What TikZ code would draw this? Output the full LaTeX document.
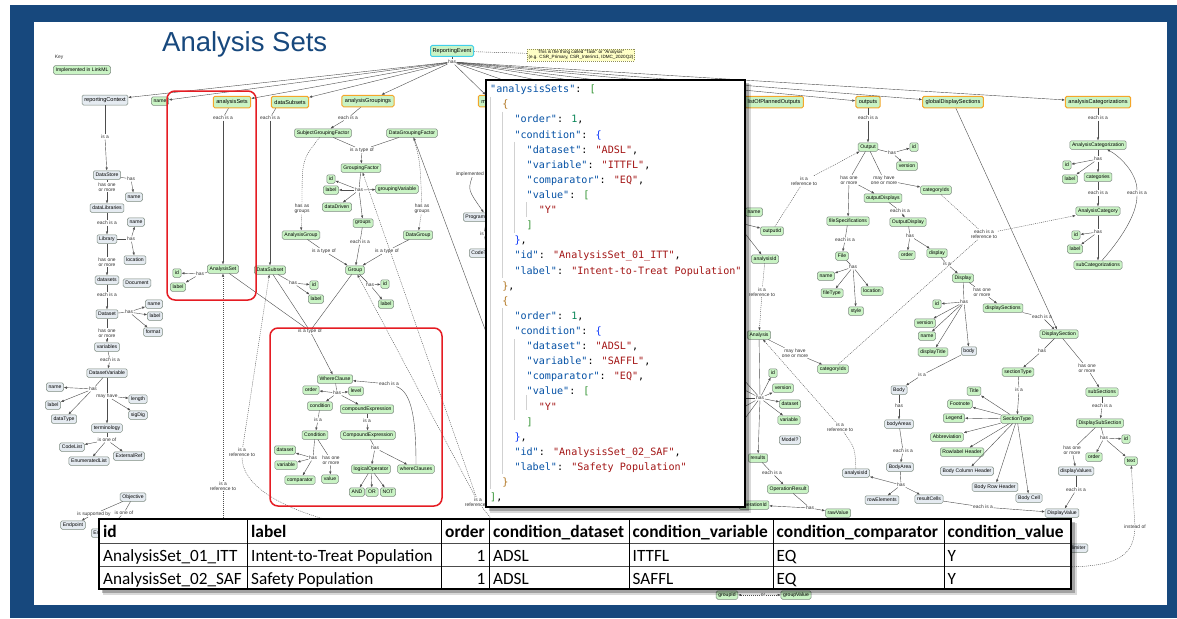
\documentclass[tikz,border=0pt]{standalone}
\usepackage{fontspec}
\setmainfont{Liberation Sans}
\newfontfamily\codefamily{DejaVu Sans Mono}
\newfontfamily\tablefamily{Carlito}
\usetikzlibrary{arrows.meta}
\definecolor{framebl}{HTML}{17487D}
\definecolor{lmgreen}{HTML}{C9F3C4}
\definecolor{nlgray}{HTML}{E5EBF1}
\definecolor{edgegray}{HTML}{7D8A80}
\definecolor{attrorange}{HTML}{F4A62A}
\definecolor{evcyan}{HTML}{41CFEA}
\definecolor{noteyel}{HTML}{FFFFC6}
\definecolor{notedge}{HTML}{8E8E5A}
\definecolor{linegray}{HTML}{4D4D4D}
\definecolor{lbltext}{HTML}{333333}
\definecolor{hlred}{HTML}{E51C23}
\definecolor{jkey}{HTML}{0451A5}
\definecolor{jstr}{HTML}{A31515}
\definecolor{jnum}{HTML}{098658}
\definecolor{jgreen}{HTML}{319331}
\definecolor{jbrown}{HTML}{B0741E}
\definecolor{jblue}{HTML}{0431FA}
\newcommand\dgnode{\fontsize{5.1}{5.6}\selectfont}
\newcommand\dgtop{\fontsize{5.6}{6.2}\selectfont}
\newcommand\dglbl{\fontsize{4.9}{5.3}\selectfont}
\newcommand\jsonfont{\codefamily\fontsize{10.1}{12}\selectfont}
\newcommand\tabhead{\tablefamily\bfseries\fontsize{17.4}{20}\selectfont}
\newcommand\tabbody{\tablefamily\fontsize{17.2}{20}\selectfont}
% json pieces
\newcommand\jk[1]{\textcolor{jkey}{"#1"}: }
\newcommand\js[1]{\textcolor{jstr}{"#1"}}
\newcommand\jn[1]{\textcolor{jnum}{#1}}
\newcommand\gbr[1]{\textcolor{jgreen}{#1}}
\newcommand\bbr[1]{\textcolor{jbrown}{#1}}
\newcommand\ubr[1]{\textcolor{jblue}{#1}}
\begin{document}
\begin{tikzpicture}[x=1pt,y=-1pt,
  lm/.style={draw=edgegray,fill=lmgreen,rounded corners=1.5pt,inner xsep=2.2pt,inner ysep=0pt,
             minimum height=8.5pt,font=\dgnode,line width=0.5pt},
  nl/.style={lm,fill=nlgray},
  topattr/.style={lm,draw=attrorange,line width=1pt,minimum height=11.5pt,font=\dgtop,inner xsep=3pt},
  lbl/.style={inner sep=0.6pt,font=\dglbl,text=lbltext,align=center},
  ln/.style={draw=linegray,line width=0.4pt},
  arr/.style={ln,-{Latex[length=3pt,width=2.4pt]}},
  refln/.style={ln,dash pattern=on 1pt off 1pt},
  refarr/.style={arr,dash pattern=on 1pt off 1pt},
  codeln/.style={anchor=base west,inner sep=0pt,font=\jsonfont},
  guide/.style={draw=black!18,line width=0.5pt},
  th/.style={anchor=base west,inner sep=0pt,font=\tabhead},
  td/.style={anchor=base west,inner sep=0pt,font=\tabbody},
  redbox/.style={draw=hlred,line width=1.5pt,rounded corners=8pt}]
\useasboundingbox (0,0) rectangle (1177,618);
% slide frame
\fill[white] (0,0) rectangle (1177,618);
\fill[framebl] (10,5) rectangle (1177,618);
\fill[white] (34,22) rectangle (1167,605);
\node[anchor=base west,inner sep=0pt,font=\fontsize{27.5}{30}\selectfont,text=framebl] (title) at (162,52) {Analysis Sets};

% key
\node[lbl] (key) at (59,57) {Key};
\node[lm] (keyLm) at (82,70) {Implemented in LinkML};

% reporting event and its attributes
\node[lm,draw=evcyan,line width=1pt,minimum height=11pt,font=\dgtop] (re) at (452,51) {ReportingEvent};
\node[draw=notedge,dash pattern=on 1pt off 1pt,fill=noteyel,font=\fontsize{4.6}{5.2}\selectfont,align=center,inner sep=1.2pt] (note) at (581,55)
  {This is the thing called ``Task'' or ``Analysis''\\(e.g. CSR\_Primary, CSR\_Interim1, IDMC\_2020Q2)};
\draw[refln] (re) -- (note);
\node[lbl] (reHas) at (452,62) {has};
\node[nl,font=\dgtop,minimum height=10pt] (rc) at (105,100) {reportingContext};
\node[lm] (nm) at (160,101) {name};
\node[topattr] (aSets) at (232,102) {analysisSets};
\node[topattr] (dSubs) at (290,102) {dataSubsets};
\node[topattr] (aGrp) at (368,101) {analysisGroupings};
\node[topattr] (meth) at (492,101) {methods};
\node[topattr] (lpo) at (774,102) {listOfPlannedOutputs};
\node[topattr] (outs) at (868,102) {outputs};
\node[topattr] (gds) at (953,102) {globalDisplaySections};
\node[topattr] (acs) at (1098,102) {analysisCategorizations};
\coordinate (hidA) at (560,100);
\coordinate (hidB) at (630,100);
\coordinate (hidC) at (700,100);
\draw[ln] (re) -- (reHas);
\draw[arr] (reHas) -- (rc);
\draw[arr] (reHas) -- (nm);
\draw[arr] (reHas) -- (aSets);
\draw[arr] (reHas) -- (dSubs);
\draw[arr] (reHas) -- (aGrp);
\draw[arr] (reHas) -- (meth);
\draw[arr] (reHas) -- (hidA);
\draw[arr] (reHas) -- (hidB);
\draw[arr] (reHas) -- (hidC);
\draw[arr] (reHas) -- (lpo);
\draw[arr] (reHas) -- (outs);
\draw[arr] (reHas) -- (gds);
\draw[arr] (reHas) -- (acs);

% reporting context column
\node[lbl] (rcIsa) at (105,137) {is a};
\node[nl] (ds) at (107,175) {DataStore};
\node[lbl] (dsHas) at (131,179) {has};
\node[nl] (dsName) at (134,197) {name};
\node[lbl] (dsHom) at (107,187) {has one\\or more};
\node[nl] (dl) at (107,208) {dataLibraries};
\node[lbl] (dlEach) at (107,223) {each is a};
\node[nl] (lib) at (107,239) {Library};
\node[lbl] (libHas) at (131,239) {has};
\node[nl] (libName) at (136,222) {name};
\node[nl] (libLoc) at (135,260) {location};
\node[lbl] (libHom) at (107,262) {has one\\or more};
\node[nl] (dsets) at (107,280) {datasets};
\node[nl] (doc) at (137,283) {Document};
\node[lbl] (dsetsEach) at (107,295) {each is a};
\node[nl] (dset) at (107,314) {Dataset};
\node[lbl] (dsetHas) at (129,312) {has};
\node[nl] (dsetName) at (154,304) {name};
\node[nl] (dsetLabel) at (155,316) {label};
\node[nl] (dsetFmt) at (153,332) {format};
\node[lbl] (dsetHom) at (107,333) {has one\\or more};
\node[nl] (vars) at (107,347) {variables};
\node[lbl] (varsEach) at (110,360) {each is a};
\node[nl] (dv) at (107,373) {DatasetVariable};
\node[lbl] (dvHas) at (93,389) {has};
\node[nl] (dvName) at (55,387) {name};
\node[nl] (dvLabel) at (53,405) {label};
\node[nl] (dvType) at (64,419) {dataType};
\node[lbl] (dvMay) at (107,396) {may have};
\node[nl] (dvLen) at (138,399) {length};
\node[nl] (dvSig) at (138,415) {sigDig};
\node[nl] (term) at (107,428) {terminology};
\node[lbl] (termOne) at (107,440) {is one of};
\node[nl] (cl) at (72,447) {CodeList};
\node[nl] (el) at (89,461) {EnumeratedList};
\node[nl] (er) at (129,456) {ExternalRef};
\node[nl] (obj) at (133,497) {Objective};
\node[lbl] (objSup) at (94,514) {is supported by};
\node[lbl] (objOne) at (124,513) {is one of};
\node[nl] (ep) at (73,525) {Endpoint};
\node[nl,anchor=west] (est) at (91,533) {Es\hspace*{14pt}};
\draw[ln] (rc) -- (rcIsa); \draw[arr] (rcIsa) -- (ds);
\draw[ln] (ds) -- (dsHas); \draw[arr] (dsHas) -- (dsName);
\draw[ln] (ds) -- (dsHom); \draw[arr] (dsHom) -- (dl);
\draw[ln] (dl) -- (dlEach); \draw[arr] (dlEach) -- (lib);
\draw[ln] (lib) -- (libHas); \draw[arr] (libHas) -- (libName); \draw[arr] (libHas) -- (libLoc);
\draw[ln] (lib) -- (libHom); \draw[arr] (libHom) -- (dsets);
\draw[ln] (dsets) -- (dsetsEach); \draw[arr] (dsetsEach) -- (dset);
\draw[ln] (dset) -- (dsetHas); \draw[arr] (dsetHas) -- (dsetName); \draw[arr] (dsetHas) -- (dsetLabel); \draw[arr] (dsetHas) -- (dsetFmt);
\draw[ln] (dset) -- (dsetHom); \draw[arr] (dsetHom) -- (vars);
\draw[ln] (vars) -- (varsEach); \draw[arr] (varsEach) -- (dv);
\draw[ln] (dv) -- (dvHas); \draw[arr] (dvHas) -- (dvName); \draw[arr] (dvHas) -- (dvLabel); \draw[arr] (dvHas) -- (dvType);
\draw[ln] (dv) -- (dvMay); \draw[arr] (dvMay) -- (dvLen); \draw[arr] (dvMay) -- (dvSig); \draw[arr] (dvMay) -- (term);
\draw[ln] (term) -- (termOne); \draw[arr] (termOne) -- (cl); \draw[arr] (termOne) -- (el); \draw[arr] (termOne) -- (er);
\draw[ln] (obj) -- (objSup); \draw[arr] (objSup) -- (ep);
\draw[ln] (obj) -- (objOne); \draw[arr] (objOne) -- (est);

% analysis sets and data subsets
\node[lbl] (aSetsEach) at (223,118) {each is a};
\node[lm] (as) at (223,269) {AnalysisSet};
\node[lbl] (asHas) at (200,274) {has};
\node[lm] (asId) at (177,273) {id};
\node[lm] (asLabel) at (178,287) {label};
\node[lbl] (dSubsEach) at (270,118) {each is a};
\node[lm] (dsub) at (270,270) {DataSubset};
\node[lbl] (dsubHas) at (293,283) {has};
\node[lm] (dsubId) at (314,285) {id};
\node[lm] (dsubLabel) at (316,299) {label};
\node[lbl] (asRef) at (223,486) {is a\\reference to};
\node[lbl] (dsubRef) at (242,452) {is a\\reference to};
\coordinate (asRefSrc) at (223,522);
\coordinate (dsubRefSrc) at (335,522);
\draw[ln] (aSets) -- (aSetsEach); \draw[arr] (aSetsEach) -- (as);
\draw[ln] (as) -- (asHas); \draw[arr] (asHas) -- (asId); \draw[arr] (asHas) -- (asLabel);
\draw[ln] (dSubs) .. controls (276,108) .. (dSubsEach); \draw[arr] (dSubsEach) -- (dsub);
\draw[ln] (dsub) -- (dsubHas); \draw[arr] (dsubHas) -- (dsubId); \draw[arr] (dsubHas) -- (dsubLabel);
\draw[refln] (asRefSrc) -- (asRef); \draw[refarr] (asRef) -- (as);
\draw[refln] (dsubRefSrc) .. controls (280,508) and (242,485) .. (dsubRef); \draw[refarr] (dsubRef) -- (dsub);

% analysis groupings
\node[lbl] (aGrpEach) at (348,118) {each is a};
\node[lm] (sgf) at (323,133) {SubjectGroupingFactor};
\node[lm] (dgf) at (412,133) {DataGroupingFactor};
\node[lbl] (gfType) at (362,150) {is a type of};
\node[lm] (gf) at (361,168) {GroupingFactor};
\node[lbl] (gfHas) at (359,190) {has};
\node[lm] (gfId) at (331,179) {id};
\node[lm] (gfLabel) at (331,190) {label};
\node[lm] (gfVar) at (397,189) {groupingVariable};
\node[lm] (gfDd) at (337,207) {dataDriven};
\node[lm] (gfGroups) at (363,223) {groups};
\node[lbl] (sgfHag) at (302,209) {has as\\groups};
\node[lbl] (dgfHag) at (422,209) {has as\\groups};
\node[lm] (ag) at (301,235) {AnalysisGroup};
\node[lm] (dg) at (418,235) {DataGroup};
\node[lbl] (grpEach) at (360,242) {each is a};
\node[lbl] (agType) at (324,251) {is a type of};
\node[lbl] (dgType) at (387,251) {is a type of};
\node[lm] (grp) at (355,270) {Group};
\node[lbl] (grpHas) at (370,285) {has};
\node[lm] (grpId) at (385,284) {id};
\node[lm] (grpLabel) at (386,304) {label};
\node[lbl] (grpRef) at (478,502) {is a\\reference to};
\coordinate (grpRefSrc) at (500,530);
\coordinate (dgfSrc) at (492,348);
\draw[ln] (aGrp) -- (aGrpEach); \draw[arr] (aGrpEach) -- (sgf);
\draw[ln] (sgf) -- (gfType); \draw[ln] (dgf) -- (gfType); \draw[arr] (gfType) -- (gf);
\draw[ln] (gf) -- (gfHas); \draw[arr] (gfHas) -- (gfId); \draw[arr] (gfHas) -- (gfLabel);
\draw[arr] (gfHas) -- (gfVar); \draw[arr] (gfHas) -- (gfDd); \draw[arr] (gfHas) -- (gfGroups);
\draw[refln] (sgf) .. controls (302,160) .. (sgfHag); \draw[refarr] (sgfHag) -- (ag);
\draw[refln] (dgf) .. controls (420,160) .. (dgfHag); \draw[refarr] (dgfHag) -- (dg);
\draw[ln] (gfGroups) -- (grpEach); \draw[arr] (grpEach) -- (grp);
\draw[ln] (ag) -- (agType); \draw[arr] (agType) -- (grp);
\draw[ln] (dg) -- (dgType); \draw[arr] (dgType) -- (grp);
\draw[ln] (grp) -- (grpHas); \draw[arr] (grpHas) -- (grpId); \draw[arr] (grpHas) -- (grpLabel);
\draw[arr] (dgfSrc) -- (dgf);
\draw[refln] (grpRefSrc) -- (grpRef); \draw[refarr] (grpRef) -- (grp); \draw[refarr] (grpRef) -- (gf);

% where clauses
\node[lbl] (wcType) at (310,331) {is a type of};
\node[lm] (wc) at (335,379) {WhereClause};
\node[lbl] (wcHas) at (337,393) {has};
\node[lm] (wcOrder) at (311,390) {order};
\node[lm] (wcLevel) at (356,391) {level};
\node[lm] (wcCond) at (320,406) {condition};
\node[lm] (wcCe) at (367,409) {compoundExpression};
\node[lbl] (condIsa) at (318,420) {is a};
\node[lbl] (ceIsa) at (367,421) {is a};
\node[lm] (cond) at (315,435) {Condition};
\node[lm] (ce) at (368,435) {CompoundExpression};
\node[lbl] (condHas) at (313,458) {has};
\node[lbl] (condHom) at (331,460) {has one\\or more};
\node[lm] (cDs) at (285,450) {dataset};
\node[lm] (cVar) at (286,465) {variable};
\node[lm] (cComp) at (300,480) {comparator};
\node[lm] (cVal) at (330,479) {value};
\node[lbl] (ceHas) at (375,448) {has};
\node[lm] (lo) at (371,469) {logicalOperator};
\node[lm] (wcs) at (416,469) {whereClauses};
\node[lbl] (wcsEach) at (389,384) {each is a};
\node[lm] (and) at (357,492) {AND};
\node[lm] (or) at (372,492) {OR};
\node[lm] (not) at (388,492) {NOT};
\draw[ln] (as) -- (wcType); \draw[ln] (dsub) -- (wcType); \draw[ln] (grp) -- (wcType); \draw[arr] (wcType) -- (wc);
\draw[ln] (wc) -- (wcHas); \draw[arr] (wcHas) -- (wcOrder); \draw[arr] (wcHas) -- (wcLevel);
\draw[arr] (wcHas) -- (wcCond); \draw[arr] (wcHas) -- (wcCe);
\draw[ln] (wcCond) -- (condIsa); \draw[arr] (condIsa) -- (cond);
\draw[ln] (wcCe) -- (ceIsa); \draw[arr] (ceIsa) -- (ce);
\draw[ln] (cond) -- (condHas); \draw[arr] (condHas) -- (cDs); \draw[arr] (condHas) -- (cVar); \draw[arr] (condHas) -- (cComp);
\draw[ln] (cond) -- (condHom); \draw[arr] (condHom) -- (cVal);
\draw[ln] (ce) -- (ceHas); \draw[arr] (ceHas) -- (lo); \draw[arr] (ceHas) -- (wcs);
\draw[arr] (lo) -- (and); \draw[arr] (lo) -- (or); \draw[arr] (lo) -- (not);
\draw[ln] (wcs) .. controls (416,420) and (412,392) .. (wcsEach); \draw[arr] (wcsEach) -- (wc);

% methods (mostly covered)
\node[lbl,anchor=west] (implBy) at (455,174) {implemented by};
\node[nl,anchor=west] (prog) at (463,217) {ProgrammingCode};
\node[lbl] (progIsa) at (484,234) {is a};
\node[nl,anchor=west] (codeTpl) at (469,253) {CodeTemplate};
\draw[arr] (implBy) .. controls (468,190) .. (prog);
\draw[ln] (prog) -- (progIsa); \draw[arr] (progIsa) -- (codeTpl);

% outputs
\node[lbl] (outsEach) at (868,118) {each is a};
\node[lm] (out) at (868,147) {Output};
\node[lbl] (outHas) at (892,153) {has};
\node[lm] (outId) at (914,147) {id};
\node[lm] (outVer) at (907,166) {version};
\node[lbl] (outHom) at (849,180) {has one\\or more};
\node[lbl] (outMay) at (884,180) {may have\\one or more};
\node[lm] (outCat) at (936,190) {categoryIds};
\node[lm] (outDisps) at (883,198) {outputDisplays};
\node[lm] (outFs) at (848,221) {fileSpecifications};
\node[lbl] (odEach) at (900,211) {each is a};
\node[lm] (od) at (908,222) {OutputDisplay};
\node[lbl] (odHas) at (910,236) {has};
\node[lm] (odOrder) at (907,255) {order};
\node[lm] (odDisp) at (937,253) {display};
\node[lbl] (dispIsa) at (947,264) {is a};
\node[lbl] (fsEach) at (845,240) {each is a};
\node[lm] (file) at (842,256) {File};
\node[lbl] (fileHas) at (853,267) {has};
\node[lm] (fName) at (826,276) {name};
\node[lm] (fType) at (832,293) {fileType};
\node[lm] (fLoc) at (872,291) {location};
\node[lm] (fStyle) at (856,311) {style};
\node[lm] (disp) at (963,278) {Display};
\node[lbl] (dispHas) at (964,302) {has};
\node[lbl] (dispHom) at (982,292) {has one\\or more};
\node[lm] (dId) at (937,304) {id};
\node[lm] (dVer) at (925,323) {version};
\node[lm] (dName) at (927,336) {name};
\node[lm] (dTitle) at (933,352) {displayTitle};
\node[nl] (dBody) at (969,351) {body};
\node[lbl] (bodyIsa) at (922,375) {is a};
\node[nl] (body) at (899,390) {Body};
\node[lbl] (bodyHas) at (899,406) {has};
\node[nl] (bAreas) at (899,424) {bodyAreas};
\node[lbl] (baEach) at (903,451) {each is a};
\node[nl] (ba) at (900,467) {BodyArea};
\node[lbl] (baHas) at (901,485) {has};
\node[nl] (rowEl) at (882,500) {rowElements};
\node[nl] (resC) at (929,499) {resultCells};
\node[lbl] (resEach) at (983,507) {each is a};
\node[nl] (dval) at (1062,513) {DisplayValue};
\draw[ln] (outs) -- (outsEach); \draw[arr] (outsEach) -- (out);
\draw[ln] (out) -- (outHas); \draw[arr] (outHas) -- (outId); \draw[arr] (outHas) -- (outVer);
\draw[ln] (out) -- (outHom); \draw[arr] (outHom) -- (outFs); \draw[arr] (outHom) -- (outDisps);
\draw[ln] (out) -- (outMay); \draw[arr] (outMay) -- (outCat);
\draw[ln] (outDisps) -- (odEach); \draw[arr] (odEach) -- (od);
\draw[ln] (od) -- (odHas); \draw[arr] (odHas) -- (odOrder); \draw[arr] (odHas) -- (odDisp);
\draw[ln] (odDisp) -- (dispIsa); \draw[arr] (dispIsa) -- (disp);
\draw[ln] (outFs) -- (fsEach); \draw[arr] (fsEach) -- (file);
\draw[ln] (file) -- (fileHas); \draw[arr] (fileHas) -- (fName); \draw[arr] (fileHas) -- (fType);
\draw[arr] (fileHas) -- (fLoc); \draw[arr] (fileHas) -- (fStyle);
\draw[ln] (disp) -- (dispHas); \draw[arr] (dispHas) -- (dId); \draw[arr] (dispHas) -- (dVer);
\draw[arr] (dispHas) -- (dName); \draw[arr] (dispHas) -- (dTitle); \draw[arr] (dispHas) -- (dBody);
\draw[ln] (dBody) -- (bodyIsa); \draw[arr] (bodyIsa) -- (body);
\draw[ln] (body) -- (bodyHas); \draw[arr] (bodyHas) -- (bAreas);
\draw[ln] (bAreas) -- (baEach); \draw[arr] (baEach) -- (ba);
\draw[ln] (ba) -- (baHas); \draw[arr] (baHas) -- (rowEl); \draw[arr] (baHas) -- (resC);
\draw[ln] (resC) -- (resEach); \draw[arr] (resEach) -- (dval);

% display sections
\node[lm] (dSecs) at (1003,308) {displaySections};
\node[lbl] (dSecsEach) at (1042,317) {each is a};
\node[lm] (dsec) at (1059,334) {DisplaySection};
\node[lbl] (dsecHas) at (1042,351) {has};
\node[lbl] (dsecHom) at (1087,368) {has one\\or more};
\node[lm] (secType) at (1018,372) {sectionType};
\node[lbl] (secIsa) at (1019,390) {is a};
\node[lm] (subSecs) at (1102,392) {subSections};
\node[lbl] (subEach) at (1102,406) {each is a};
\node[lm] (st) at (1017,419) {SectionType};
\node[lm] (stTitle) at (974,391) {Title};
\node[lm] (stFoot) at (960,404) {Footnote};
\node[lm] (stLeg) at (954,418) {Legend};
\node[lm] (stAbb) at (947,437) {Abbreviation};
\node[lm] (stRow) at (962,452) {Rowlabel Header};
\node[nl] (stCol) at (967,471) {Body Column Header};
\node[nl] (stBrh) at (995,487) {Body Row Header};
\node[nl] (stCell) at (1029,498) {Body Cell};
\node[lm] (dss) at (1100,423) {DisplaySubSection};
\node[lbl] (dssHas) at (1104,438) {has};
\node[lm] (dssId) at (1126,439) {id};
\node[lm] (dssOrder) at (1094,457) {order};
\node[lm] (dssText) at (1131,461) {text};
\node[lbl] (dssHom) at (1072,450) {has one\\or more};
\node[nl] (dVals) at (1076,471) {displayValues};
\node[lbl] (dValsEach) at (1076,490) {each is a};
\node[lbl] (insteadOf) at (1135,527) {instead of};
\node[nl,anchor=east] (delim) at (1088,548) {delimiter};
\coordinate (insteadSrc) at (1060,567);
\draw[ln] (disp) -- (dispHom); \draw[arr] (dispHom) -- (dSecs);
\draw[ln] (dSecs) -- (dSecsEach); \draw[arr] (dSecsEach) -- (dsec);
\draw[arr] (gds) -- (dsec);
\draw[ln] (dsec) -- (dsecHas); \draw[arr] (dsecHas) -- (secType);
\draw[ln] (dsec) -- (dsecHom); \draw[arr] (dsecHom) -- (subSecs);
\draw[ln] (secType) -- (secIsa); \draw[arr] (secIsa) -- (st);
\draw[arr] (st) -- (stTitle); \draw[arr] (st) -- (stFoot); \draw[arr] (st) -- (stLeg); \draw[arr] (st) -- (stAbb);
\draw[arr] (st) -- (stRow); \draw[arr] (st) -- (stCol); \draw[arr] (st) -- (stBrh); \draw[arr] (st) -- (stCell);
\draw[ln] (subSecs) -- (subEach); \draw[arr] (subEach) -- (dss);
\draw[ln] (dss) -- (dssHas); \draw[arr] (dssHas) -- (dssId); \draw[arr] (dssHas) -- (dssOrder); \draw[arr] (dssHas) -- (dssText);
\draw[ln] (dss) -- (dssHom); \draw[arr] (dssHom) -- (dVals);
\draw[ln] (dVals) -- (dValsEach); \draw[arr] (dValsEach) -- (dval);
\draw[refln] (insteadSrc) .. controls (1110,567) and (1133,560) .. (insteadOf); \draw[refarr] (insteadOf) -- (dssText);

% analysis categorizations
\node[lbl] (acsEach) at (1098,118) {each is a};
\node[lm] (acat) at (1098,145) {AnalysisCategorization};
\node[lbl] (acatHas) at (1098,159) {has};
\node[lm] (acatId) at (1067,165) {id};
\node[lm] (acatLabel) at (1070,179) {label};
\node[lm] (cats) at (1098,177) {categories};
\node[lbl] (catsEach) at (1098,193) {each is a};
\node[lbl] (subEach2) at (1137,193) {each is a};
\node[lm] (acy) at (1098,211) {AnalysisCategory};
\node[lbl] (acyHas) at (1098,232) {has};
\node[lm] (acyId) at (1076,235) {id};
\node[lm] (acyLabel) at (1075,249) {label};
\node[lm] (subCats) at (1098,265) {subCategorizations};
\node[lbl] (catRef) at (984,234) {each is a\\reference to};
\draw[ln] (acs) -- (acsEach); \draw[arr] (acsEach) -- (acat);
\draw[ln] (acat) -- (acatHas); \draw[arr] (acatHas) -- (acatId); \draw[arr] (acatHas) -- (acatLabel); \draw[arr] (acatHas) -- (cats);
\draw[ln] (cats) -- (catsEach); \draw[arr] (catsEach) -- (acy);
\draw[ln] (acy) -- (acyHas); \draw[arr] (acyHas) -- (acyId); \draw[arr] (acyHas) -- (acyLabel); \draw[arr] (acyHas) -- (subCats);
\draw[ln] (subCats) .. controls (1120,240) and (1137,215) .. (subEach2); \draw[arr] (subEach2) .. controls (1137,172) and (1118,155) .. (acat);
\draw[refln] (outCat) -- (catRef); \draw[refarr] (catRef) -- (acy);

% analyses
\coordinate (lpoHub) at (736,222);
\node[lm] (nameA) at (754,212) {name};
\node[lm] (outIdN) at (772,231) {outputId};
\node[lm] (aId) at (765,259) {analysisId};
\node[lbl] (oRef) at (804,181) {is a\\reference to};
\node[lbl] (aRef) at (762,292) {is a\\reference to};
\node[lm] (an) at (759,335) {Analysis};
\node[lbl] (anMay) at (795,353) {may have\\one or more};
\node[lm] (anCat) at (833,369) {categoryIds};
\node[lbl] (anHub) at (760,398) {has};
\node[lm] (anId) at (773,373) {id};
\node[lm] (anVer) at (783,388) {version};
\node[lm] (anDs) at (790,404) {dataset};
\node[lm] (anVar) at (789,420) {variable};
\node[nl] (model) at (790,440) {Model?};
\node[lm] (results) at (758,458) {results};
\node[lbl] (resEach2) at (772,473) {each is a};
\node[lm] (opRes) at (788,489) {OperationResult};
\node[lbl] (opHas) at (810,508) {has};
\node[lm] (rawVal) at (838,513) {rawValue};
\node[lm] (opId) at (754,505) {operationId};
\node[nl] (anIdRef) at (856,473) {analysisId};
\node[lbl] (anIdRefLbl) at (840,427) {is a\\reference to};
\coordinate (anL1) at (735,370);
\coordinate (anL2) at (735,385);
\coordinate (anL3) at (735,398);
\coordinate (anL4) at (735,412);
\coordinate (anL5) at (735,432);
\draw[arr] (lpoHub) -- (nameA); \draw[arr] (lpoHub) -- (outIdN); \draw[arr] (lpoHub) -- (aId);
\draw[refln] (outIdN) -- (oRef); \draw[refarr] (oRef) -- (out);
\draw[refln] (aId) -- (aRef); \draw[refarr] (aRef) -- (an);
\draw[ln] (an) -- (anMay); \draw[arr] (anMay) -- (anCat);
\draw[refln] (anCat) -- (catRef);
\draw[ln] (an) -- (anHub); \draw[arr] (anHub) -- (anId); \draw[arr] (anHub) -- (anVer);
\draw[arr] (anHub) -- (anDs); \draw[arr] (anHub) -- (anVar); \draw[arr] (anHub) -- (results);
\draw[arr] (anHub) -- (anL1); \draw[arr] (anHub) -- (anL2); \draw[arr] (anHub) -- (anL3);
\draw[arr] (anHub) -- (anL4); \draw[arr] (anHub) -- (anL5);
\draw[ln] (results) -- (resEach2); \draw[arr] (resEach2) -- (opRes);
\draw[ln] (opRes) -- (opHas); \draw[arr] (opHas) -- (rawVal); \draw[arr] (opHas) -- (opId);
\draw[arr] (baHas) -- (anIdRef);
\draw[refln] (anIdRef) .. controls (855,448) .. (anIdRefLbl); \draw[refarr] (anIdRefLbl) -- (an);

% groups below the table
\node[lm] (grpIdB) at (727,595) {groupId};
\node[lm] (grpValB) at (796,595) {groupValue};
\node[lbl] (orLbl) at (763,595) {or};
\draw[refarr] (orLbl) -- (grpIdB); \draw[refarr] (orLbl) -- (grpValB);

% highlights
\draw[redbox] (167,91) rectangle (256,300);
\draw[redbox] (270,328) rectangle (442,506);

% json panel
\fill[black,opacity=.25] (489,83) rectangle (749,511);
\fill[black,opacity=.15] (490,84) rectangle (751,513);
\draw[fill=white,line width=1.8pt] (486,80) rectangle (745,507);
\draw[guide] (490,96.6) -- (490,489.4);
\draw[guide] (502.2,111.7) -- (502.2,277.8);
\draw[guide] (502.2,308) -- (502.2,474.3);
\draw[guide] (514.3,141.9) -- (514.3,232.5);
\draw[guide] (514.3,339.4) -- (514.3,420);
\draw[guide] (526.5,202.4) -- (526.5,217.4);
\draw[guide] (526.5,394.9) -- (526.5,409.9);
\node[codeln] (l0) at (490,92.7) {\jk{analysisSets}\gbr{[}};
\node[codeln] (l1) at (502.2,107.8) {\bbr{\{}};
\node[codeln] (l2) at (514.3,122.9) {\jk{order}\jn{1},};
\node[codeln] (l3) at (514.3,138.0) {\jk{condition}\ubr{\{}};
\node[codeln] (l4) at (526.5,153.1) {\jk{dataset}\js{ADSL},};
\node[codeln] (l5) at (526.5,168.3) {\jk{variable}\js{ITTFL},};
\node[codeln] (l6) at (526.5,183.4) {\jk{comparator}\js{EQ},};
\node[codeln] (l7) at (526.5,198.5) {\jk{value}\gbr{[}};
\node[codeln] (l8) at (538.6,213.6) {\js{Y}};
\node[codeln] (l9) at (526.5,228.7) {\gbr{]}};
\node[codeln] (l10) at (514.3,243.8) {\ubr{\}},};
\node[codeln] (l11) at (514.3,258.9) {\jk{id}\js{AnalysisSet\_01\_ITT},};
\node[codeln] (l12) at (514.3,274.0) {\jk{label}\js{Intent-to-Treat Population}};
\node[codeln] (l13) at (502.2,289.1) {\bbr{\}},};
\node[codeln] (l14) at (502.2,304.2) {\bbr{\{}};
\node[codeln] (l15) at (514.3,319.4) {\jk{order}\jn{1},};
\node[codeln] (l16) at (514.3,334.5) {\jk{condition}\ubr{\{}};
\node[codeln] (l17) at (526.5,349.6) {\jk{dataset}\js{ADSL},};
\node[codeln] (l18) at (526.5,364.7) {\jk{variable}\js{SAFFL},};
\node[codeln] (l19) at (526.5,379.8) {\jk{comparator}\js{EQ},};
\node[codeln] (l20) at (526.5,394.9) {\jk{value}\gbr{[}};
\node[codeln] (l21) at (538.6,410.0) {\js{Y}};
\node[codeln] (l22) at (526.5,425.1) {\gbr{]}};
\node[codeln] (l23) at (514.3,440.2) {\ubr{\}},};
\node[codeln] (l24) at (514.3,455.3) {\jk{id}\js{AnalysisSet\_02\_SAF},};
\node[codeln] (l25) at (514.3,470.5) {\jk{label}\js{Safety Population}};
\node[codeln] (l26) at (502.2,485.6) {\bbr{\}}};
\node[codeln] (l27) at (490,500.7) {\gbr{]},};

% table
\fill[black,opacity=.25] (102,522) rectangle (1075,593);
\fill[black,opacity=.15] (103,523) rectangle (1077,595);
\fill[white] (99,519) rectangle (1071,589);
\draw[black!70,line width=0.8pt] (99,543.5) -- (1071,543.5);
\draw[black!70,line width=0.8pt] (99,566.5) -- (1071,566.5);
\draw[black,line width=1pt] (247,519) -- (247,589);
\draw[black,line width=1pt] (441,519) -- (441,589);
\draw[black,line width=1pt] (489,519) -- (489,589);
\draw[black,line width=1pt] (629,519) -- (629,589);
\draw[black,line width=1pt] (773,519) -- (773,589);
\draw[black,line width=1pt] (944,519) -- (944,589);
\draw[black,line width=2.5pt] (99,519) rectangle (1071,589);
\node[th] (hId) at (103,537) {id};
\node[th] (hLabel) at (251,537) {label};
\node[th] (hOrder) at (445,537) {order};
\node[th] (hDs) at (493,537) {condition\_dataset};
\node[th] (hVar) at (632.5,537) {condition\_variable};
\node[th] (hComp) at (776.5,537) {condition\_comparator};
\node[th] (hVal) at (947.5,537) {condition\_value};
\node[td] (aId1) at (103,561) {AnalysisSet\_01\_ITT};
\node[td] (aLabel1) at (251,561) {Intent-to-Treat Population};
\node[td,anchor=base east] (aOrder1) at (485.5,561) {1};
\node[td] (aDs1) at (493,561) {ADSL};
\node[td] (aVar1) at (632.5,561) {ITTFL};
\node[td] (aComp1) at (776.5,561) {EQ};
\node[td] (aVal1) at (947.5,561) {Y};
\node[td] (aId2) at (103,584) {AnalysisSet\_02\_SAF};
\node[td] (aLabel2) at (251,584) {Safety Population};
\node[td,anchor=base east] (aOrder2) at (485.5,584) {1};
\node[td] (aDs2) at (493,584) {ADSL};
\node[td] (aVar2) at (632.5,584) {SAFFL};
\node[td] (aComp2) at (776.5,584) {EQ};
\node[td] (aVal2) at (947.5,584) {Y};
\end{tikzpicture}
\end{document}
